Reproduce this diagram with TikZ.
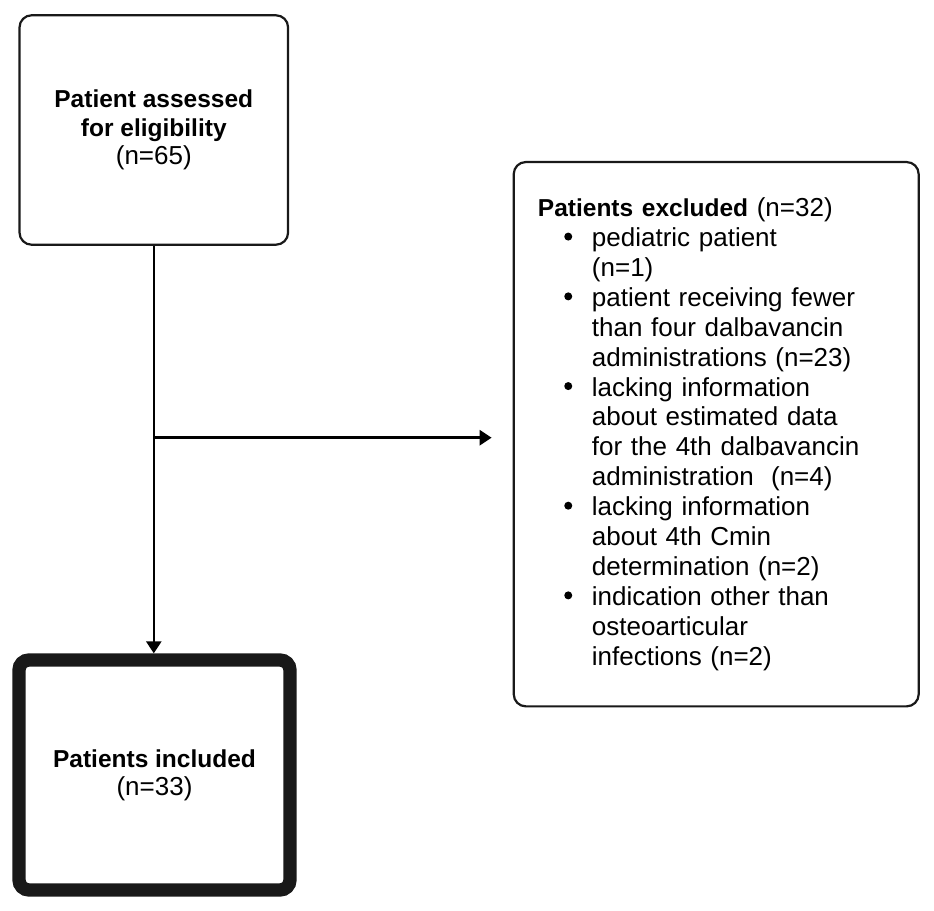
\documentclass[tikz,border=0pt]{standalone}
\usepackage{fontspec}
\setmainfont{Liberation Sans}
\usetikzlibrary{arrows.meta}
\newcommand\bfx[1]{{\fontsize{24.5}{28.3}\selectfont\bfseries #1}}
\newcommand\bul{\hspace*{26.3pt}\makebox[27.7pt][l]{\raisebox{6pt}{\tikz\fill[black] (0,0) circle (4pt);}}}
\newcommand\ind{\hspace*{54pt}}
\tikzset{
  box/.style={draw=black!90, line width=2.2pt, rounded corners=12pt, fill=white, inner sep=0pt},
  thickbox/.style={draw=black!90, line width=13.3pt, rounded corners=10pt, fill=white, inner sep=0pt},
  conn/.style={draw=black, line width=2.6pt, -{Triangle[length=12pt,width=15pt]}},
}
\begin{document}
\begin{tikzpicture}[x=1pt,y=-1pt]
\useasboundingbox[fill=white] (0,0) rectangle (934,910);
\node[box, minimum width=268.5pt, minimum height=229.4pt, align=center,
      font=\fontsize{26}{28.3}\selectfont] (assess) at (153.8,130)
  {\bfx{Patient assessed}\\\bfx{for eligibility}\\(n=65)};
\node[thickbox, minimum width=271pt, minimum height=230pt, align=center,
      font=\fontsize{26}{28.3}\selectfont] (incl) at (154.5,775)
  {\bfx{Patients included}\\(n=33)};
\node[box, minimum width=404.9pt, minimum height=544.3pt, text width=356.5pt,
      align=left, font=\fontsize{26}{29.9}\selectfont] (excl) at (716.2,434.2)
  {{\fontsize{24.5}{29.9}\selectfont\bfseries Patients excluded} (n=32)\\
   \bul pediatric patient\\
   \ind (n=1)\\
   \bul patient receiving fewer\\
   \ind than four dalbavancin\\
   \ind administrations (n=23)\\
   \bul lacking information\\
   \ind about estimated data\\
   \ind for the 4th dalbavancin\\
   \ind administration~ (n=4)\\
   \bul lacking information\\
   \ind about 4th Cmin\\
   \ind determination (n=2)\\
   \bul indication other than\\
   \ind osteoarticular\\
   \ind infections (n=2)};
\coordinate (split) at (assess.south |- 0,437.7);
\draw[conn] (assess.south) -- (assess.south |- incl.north);
\draw[conn, shorten >=21pt] (split) -- (split -| excl.west);
\end{tikzpicture}
\end{document}
